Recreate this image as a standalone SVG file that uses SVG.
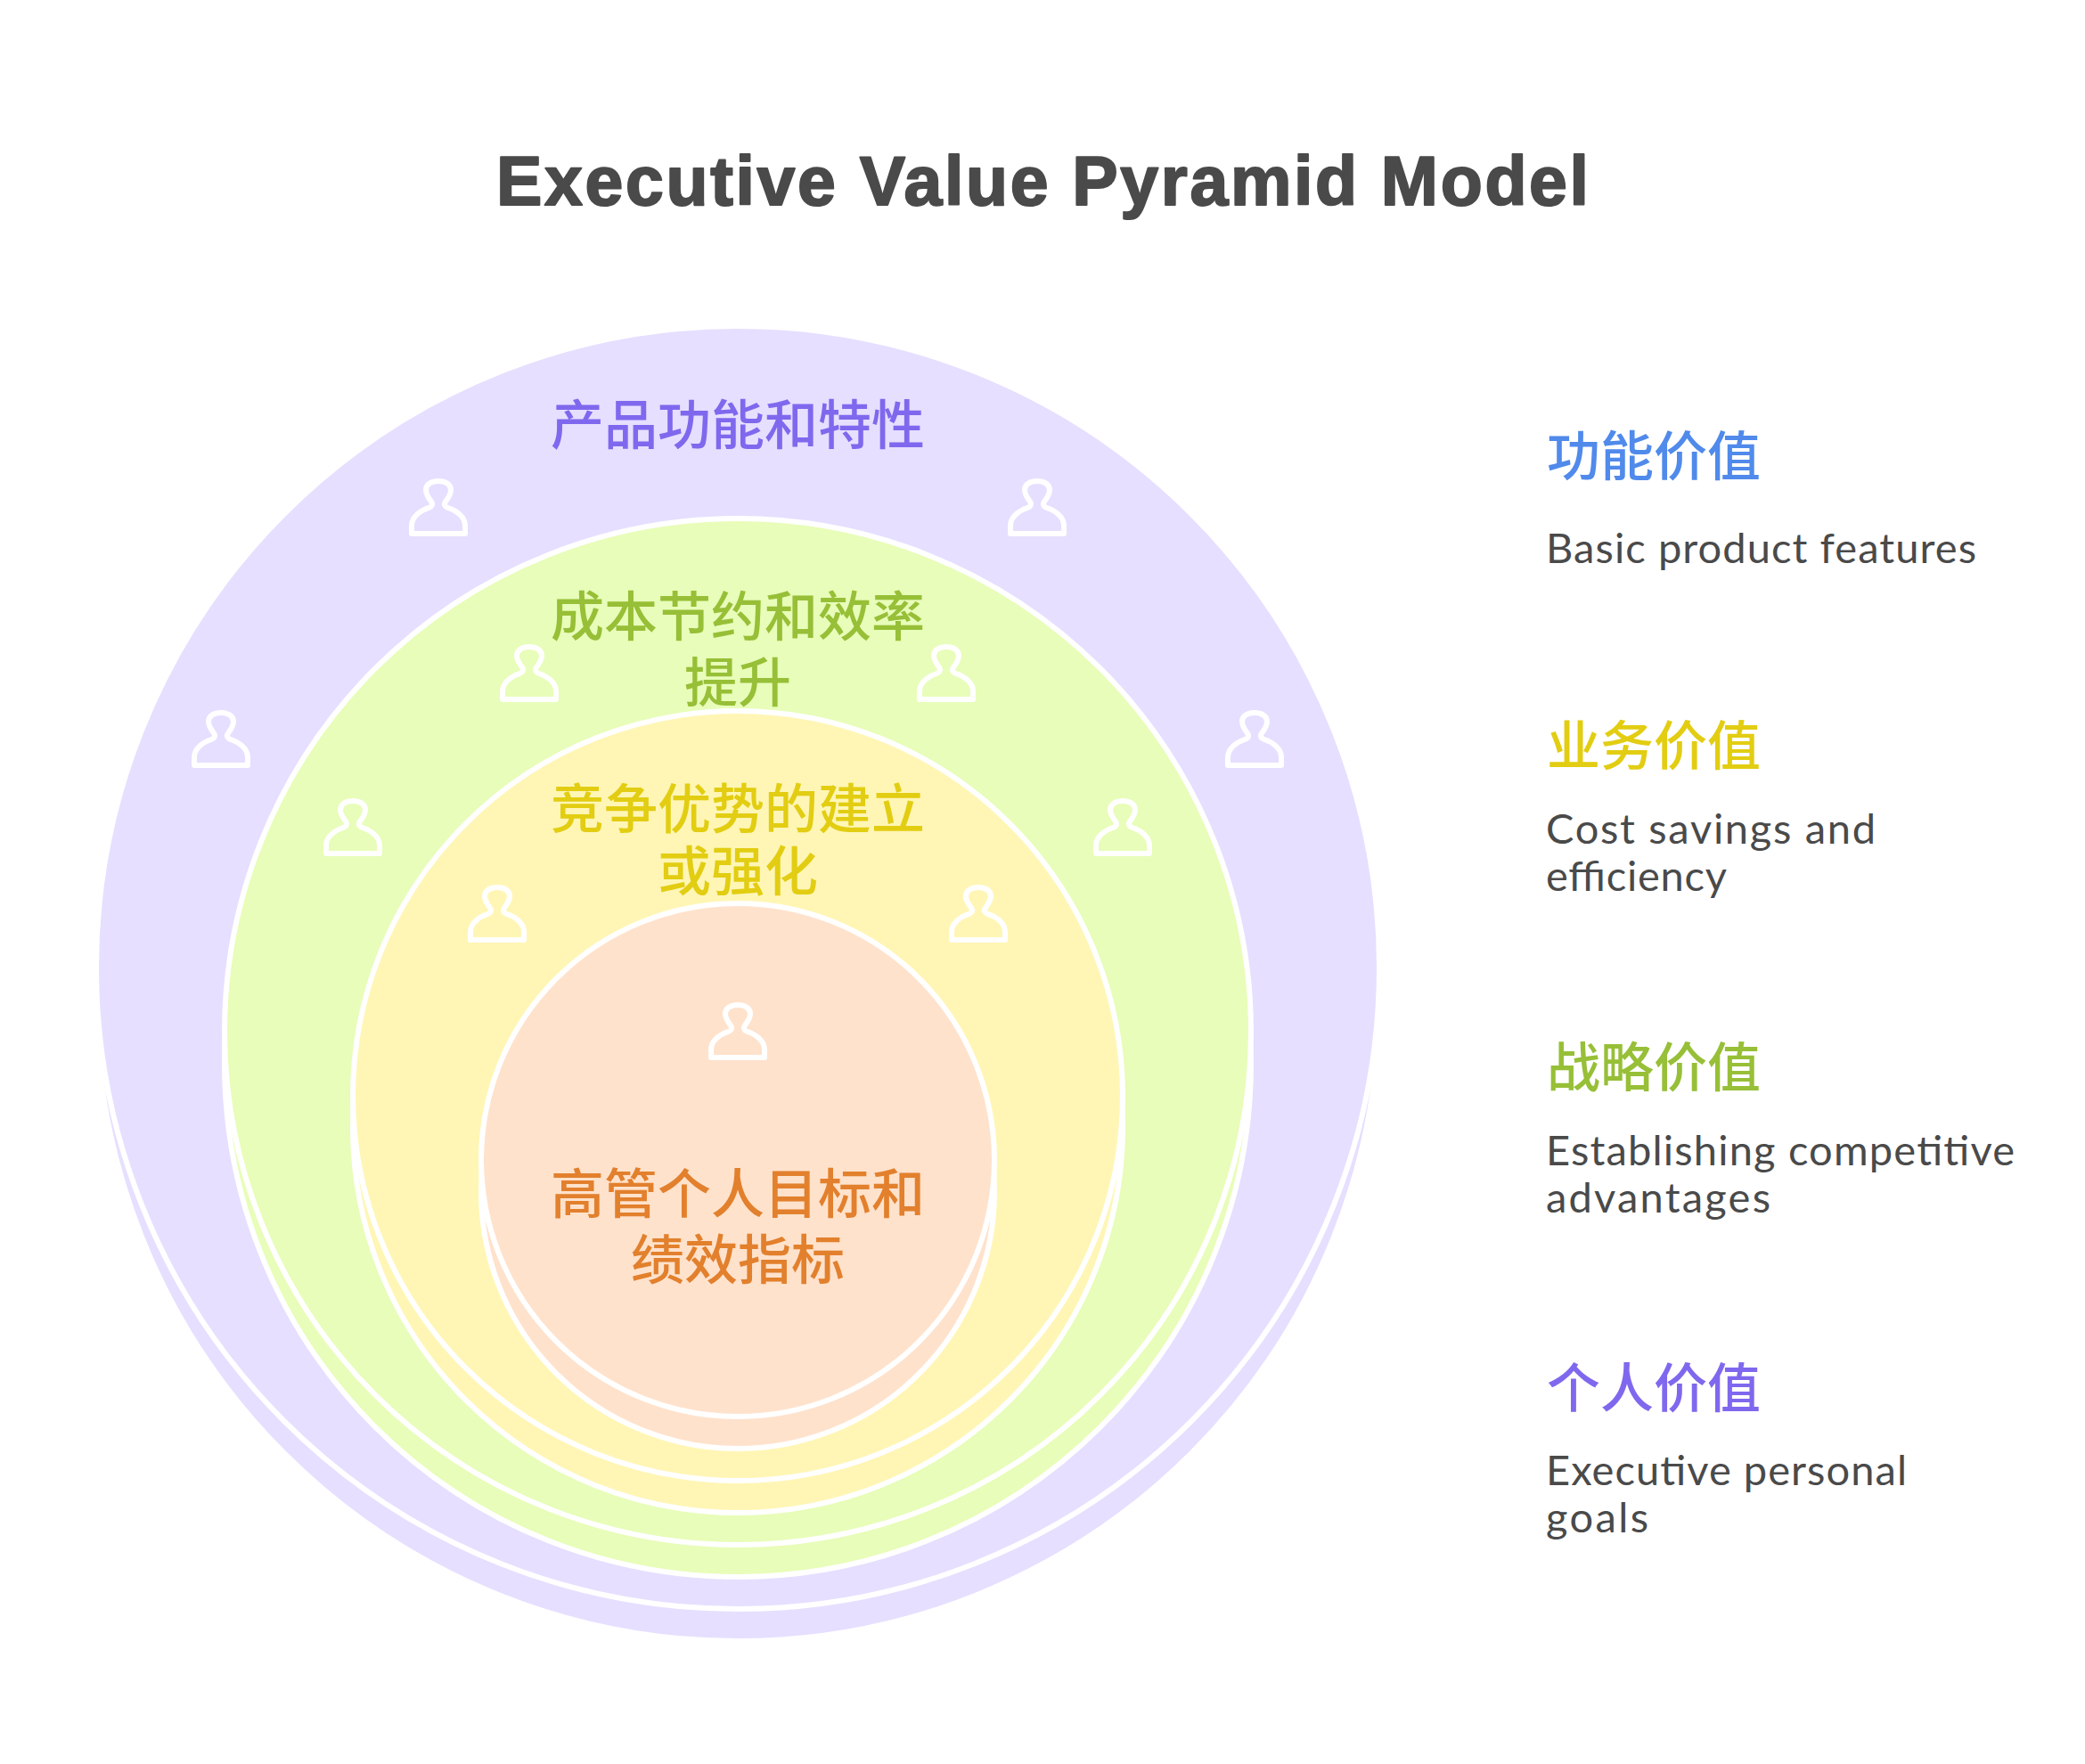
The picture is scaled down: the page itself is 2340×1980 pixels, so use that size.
<svg xmlns="http://www.w3.org/2000/svg" width="2340" height="1980" viewBox="0 0 2340 1980">
<style>
.ring{stroke:#fff;stroke-width:6}
.p{fill:#e6dfff}.g{fill:#e8fdb9}.y{fill:#fff6b6}.o{fill:#ffe2cc}
.icon{fill:none;stroke:#fff;stroke-width:6;stroke-linejoin:round}
.cjk{font-family:"Noto Sans CJK SC","Noto Sans",sans-serif;font-size:60px;font-weight:500}
.mid{text-anchor:middle}
.body{font-family:"Lato","Noto Sans",sans-serif;font-size:47px;fill:#4a4a4a}
.title{font-family:"Liberation Sans",Arial,sans-serif;font-weight:700;font-size:77px;fill:#4a4a4a;stroke:#4a4a4a;stroke-width:2;stroke-linejoin:round;text-anchor:middle}
.tp{fill:#8068ee}.tg{fill:#97bf37}.ty{fill:#e2cd12}.to{fill:#e2802d}.tb{fill:#508aeb}
</style>
<defs>
<path id="person" d="M-30,29 H30 V20 C30,10 20,3 11,0 C7,-1 6,-4 8,-7 C11,-11 14,-17 14,-20 C14,-27 7,-30 0,-30 C-7,-30 -14,-27 -14,-20 C-14,-17 -11,-11 -8,-7 C-6,-4 -7,-1 -11,0 C-20,3 -30,10 -30,20 Z"/>
</defs>
<rect width="2340" height="1980" fill="#fff"/>
<text id="title" class="title" x="1170" y="230" textLength="1226">Executive Value Pyramid Model</text>
<g id="layer-functional">
<circle class="ring p" cx="828" cy="1122" r="720"/>
<circle class="ring p" cx="828" cy="1086" r="720"/>
<text class="cjk mid tp" x="828" y="499">产品功能和特性</text>
</g>
<g id="layer-business">
<circle class="ring g" cx="828" cy="1194" r="576"/>
<circle class="ring g" cx="828" cy="1158" r="576"/>
<text class="cjk mid tg" x="828" y="714">成本节约和效率</text>
<text class="cjk mid tg" x="828" y="788">提升</text>
</g>
<g id="layer-strategic">
<circle class="ring y" cx="828" cy="1266" r="432"/>
<circle class="ring y" cx="828" cy="1230" r="432"/>
<text class="cjk mid ty" x="828" y="930">竞争优势的建立</text>
<text class="cjk mid ty" x="828" y="1000">或强化</text>
</g>
<g id="layer-personal">
<circle class="ring o" cx="828" cy="1338" r="288"/>
<circle class="ring o" cx="828" cy="1302" r="288"/>
<text class="cjk mid to" x="828" y="1362">高管个人目标和</text>
<text class="cjk mid to" x="828" y="1436">绩效指标</text>
</g>
<g id="icons" class="icon">
<use href="#person" x="492" y="570"/>
<use href="#person" x="1164" y="570"/>
<use href="#person" x="248" y="830"/>
<use href="#person" x="1408" y="830"/>
<use href="#person" x="594" y="756"/>
<use href="#person" x="1062" y="756"/>
<use href="#person" x="396" y="929"/>
<use href="#person" x="1260" y="929"/>
<use href="#person" x="558" y="1026"/>
<use href="#person" x="1098" y="1026"/>
<use href="#person" x="828" y="1158"/>
</g>
<g id="legend-functional">
<text class="cjk tb" x="1736" y="534">功能价值</text>
<text class="body" x="1735" y="632" textLength="483">Basic product features</text>
</g>
<g id="legend-business">
<text class="cjk ty" x="1736" y="859">业务价值</text>
<text class="body" x="1735" y="947" textLength="370">Cost savings and</text>
<text class="body" x="1735" y="1000" textLength="203">efficiency</text>
</g>
<g id="legend-strategic">
<text class="cjk tg" x="1736" y="1220">战略价值</text>
<text class="body" x="1735" y="1308" textLength="526">Establishing competitive</text>
<text class="body" x="1735" y="1361" textLength="252">advantages</text>
</g>
<g id="legend-personal">
<text class="cjk tp" x="1736" y="1580">个人价值</text>
<text class="body" x="1735" y="1667" textLength="405">Executive personal</text>
<text class="body" x="1735" y="1720" textLength="115">goals</text>
</g>
</svg>
